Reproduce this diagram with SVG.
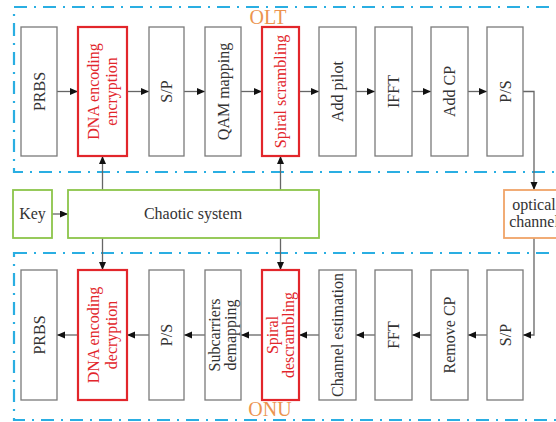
<svg xmlns="http://www.w3.org/2000/svg" width="556" height="422" viewBox="0 0 556 422">
<defs>
<marker id="arr" markerUnits="userSpaceOnUse" markerWidth="9" markerHeight="8" refX="8" refY="3.5" orient="auto">
<path d="M0,0 L8,3.5 L0,7 z" fill="#111"/>
</marker>
<style>
.bg{fill:#fff}
.zone{fill:none;stroke:#2aaee2;stroke-width:2.2;stroke-dasharray:13 7 2 7}
.gray{fill:#fff;stroke:#7a7a7a;stroke-width:1.3}
.red{fill:#fff;stroke:#e2262b;stroke-width:2.2}
.green{fill:#fff;stroke:#8cc54a;stroke-width:1.8}
.orange{fill:#fff;stroke:#f0a468;stroke-width:1.8}
text{font-family:"Liberation Serif","Times New Roman",serif;font-size:16px;fill:#333;text-anchor:middle}
.rt{fill:#e2262b}
.lbl{font-size:20px;fill:#ec9450}
.conn{fill:none;stroke:#666;stroke-width:1.3;marker-end:url(#arr)}
</style>
</defs>
<rect class="bg" x="0" y="0" width="556" height="422"/>
<g id="zones">
<rect class="zone" x="14" y="7" width="560" height="165"/>
<rect class="zone" x="14" y="253" width="560" height="167"/>
<text class="lbl" x="268" y="24">OLT</text>
<text class="lbl" x="270" y="416">ONU</text>
</g>
<g id="connectors">
<line class="conn" x1="57" y1="91.5" x2="78" y2="91.5"/>
<line class="conn" x1="127" y1="91.5" x2="149" y2="91.5"/>
<line class="conn" x1="184" y1="91.5" x2="205" y2="91.5"/>
<line class="conn" x1="241" y1="91.5" x2="262" y2="91.5"/>
<line class="conn" x1="299" y1="91.5" x2="319" y2="91.5"/>
<line class="conn" x1="356" y1="91.5" x2="375" y2="91.5"/>
<line class="conn" x1="412" y1="91.5" x2="431" y2="91.5"/>
<line class="conn" x1="468" y1="91.5" x2="487" y2="91.5"/>
<polyline class="conn" points="523,91.5 534,91.5 534,190"/>
<polyline class="conn" points="534,238 534,335 523,335"/>
<line class="conn" x1="487" y1="335" x2="468" y2="335"/>
<line class="conn" x1="431" y1="335" x2="412" y2="335"/>
<line class="conn" x1="375" y1="335" x2="356" y2="335"/>
<line class="conn" x1="319" y1="335" x2="299" y2="335"/>
<line class="conn" x1="262" y1="335" x2="241" y2="335"/>
<line class="conn" x1="205" y1="335" x2="184" y2="335"/>
<line class="conn" x1="149" y1="335" x2="127" y2="335"/>
<line class="conn" x1="78" y1="335" x2="57" y2="335"/>
<line class="conn" x1="52" y1="214" x2="68" y2="214"/>
<line class="conn" x1="102.5" y1="190" x2="102.5" y2="156"/>
<line class="conn" x1="280.5" y1="190" x2="280.5" y2="156"/>
<line class="conn" x1="102.5" y1="238" x2="102.5" y2="270"/>
<line class="conn" x1="280.5" y1="238" x2="280.5" y2="270"/>
</g>
<g id="olt-prbs"><rect class="gray" x="21" y="27" width="36" height="129"/><text transform="translate(39,91.5) rotate(-90)" y="5.5">PRBS</text></g>
<g id="olt-dna"><rect class="red" x="78" y="27" width="49" height="129"/><text class="rt" transform="translate(102.5,91.5) rotate(-90)"><tspan x="0" y="-4">DNA encoding</tspan><tspan x="0" y="14">encryption</tspan></text></g>
<g id="olt-sp"><rect class="gray" x="149" y="27" width="35" height="129"/><text transform="translate(166.5,91.5) rotate(-90)" y="5.5">S/P</text></g>
<g id="olt-qam"><rect class="gray" x="205" y="27" width="36" height="129"/><text transform="translate(223,91.5) rotate(-90)" y="5.5">QAM mapping</text></g>
<g id="olt-spiral"><rect class="red" x="262" y="27" width="37" height="129"/><text class="rt" transform="translate(280.5,91.5) rotate(-90)" y="5.5">Spiral  scrambling</text></g>
<g id="olt-pilot"><rect class="gray" x="319" y="27" width="37" height="129"/><text transform="translate(337.5,91.5) rotate(-90)" y="5.5">Add pilot</text></g>
<g id="olt-ifft"><rect class="gray" x="375" y="27" width="37" height="129"/><text transform="translate(393.5,91.5) rotate(-90)" y="5.5">IFFT</text></g>
<g id="olt-cp"><rect class="gray" x="431" y="27" width="37" height="129"/><text transform="translate(449.5,91.5) rotate(-90)" y="5.5">Add CP</text></g>
<g id="olt-ps"><rect class="gray" x="487" y="27" width="36" height="129"/><text transform="translate(505,91.5) rotate(-90)" y="5.5">P/S</text></g>
<g id="key"><rect class="green" x="13" y="190" width="39" height="48"/><text x="32.5" y="219">Key</text></g>
<g id="chaotic"><rect class="green" x="68" y="190" width="251" height="48"/><text x="193" y="219">Chaotic system</text></g>
<g id="optical"><rect class="orange" x="504" y="190" width="60" height="48"/><text x="534" y="210">optical</text><text x="534" y="227">channel</text></g>
<g id="onu-prbs"><rect class="gray" x="21" y="270" width="36" height="130"/><text transform="translate(39,335) rotate(-90)" y="5.5">PRBS</text></g>
<g id="onu-dna"><rect class="red" x="78" y="270" width="49" height="130"/><text class="rt" transform="translate(102.5,335) rotate(-90)"><tspan x="0" y="-4">DNA encoding</tspan><tspan x="0" y="14">decryption</tspan></text></g>
<g id="onu-ps"><rect class="gray" x="149" y="270" width="35" height="130"/><text transform="translate(166.5,335) rotate(-90)" y="5.5">P/S</text></g>
<g id="onu-demap"><rect class="gray" x="205" y="270" width="36" height="130"/><text transform="translate(223,335) rotate(-90)"><tspan x="0" y="-3">Subcarriers</tspan><tspan x="0" y="13">demapping</tspan></text></g>
<g id="onu-spiral"><rect class="red" x="262" y="270" width="37" height="130"/><text class="rt" transform="translate(280.5,335) rotate(-90)"><tspan x="0" y="-3">Spiral</tspan><tspan x="0" y="13">descrambling</tspan></text></g>
<g id="onu-chest"><rect class="gray" x="319" y="270" width="37" height="130"/><text transform="translate(337.5,335) rotate(-90)" y="5.5">Channel estimation</text></g>
<g id="onu-fft"><rect class="gray" x="375" y="270" width="37" height="130"/><text transform="translate(393.5,335) rotate(-90)" y="5.5">FFT</text></g>
<g id="onu-rmcp"><rect class="gray" x="431" y="270" width="37" height="130"/><text transform="translate(449.5,335) rotate(-90)" y="5.5">Remove CP</text></g>
<g id="onu-sp"><rect class="gray" x="487" y="270" width="36" height="130"/><text transform="translate(505,335) rotate(-90)" y="5.5">S/P</text></g>
</svg>
